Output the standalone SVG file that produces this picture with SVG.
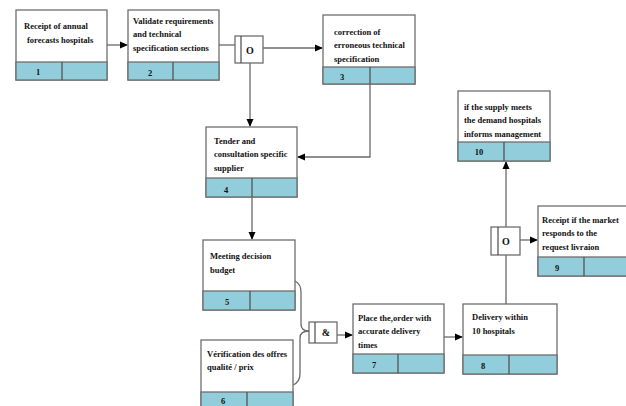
<svg xmlns="http://www.w3.org/2000/svg" width="626" height="406" viewBox="0 0 626 406">
<defs>
<marker id="ah" markerWidth="8" markerHeight="8" refX="7" refY="4" orient="auto" markerUnits="userSpaceOnUse">
<path d="M0,0.5 L8,4 L0,7.5 Z" fill="#000"/>
</marker>
<style>
.box{fill:#fff;stroke:#6e6e6e;stroke-width:1.3}
.strip{fill:#92cddc;stroke:#6e6e6e;stroke-width:1.3}
.div{stroke:#4a4a4a;stroke-width:1.2}
.t{font-family:"Liberation Serif","Times New Roman",serif;font-weight:bold;font-size:8.5px;fill:#111}
.n{font-family:"Liberation Serif","Times New Roman",serif;font-weight:bold;font-size:8.5px;fill:#111;text-anchor:middle}
.j{font-family:"Liberation Serif","Times New Roman",serif;font-weight:bold;font-size:10px;fill:#111;text-anchor:middle}
.c{fill:none;stroke:#6a6a6a;stroke-width:1.3}
.ca{fill:none;stroke:#6a6a6a;stroke-width:1.3;marker-end:url(#ah)}
</style>
</defs>
<rect width="626" height="406" fill="#fff"/>
<g id="connectors">
<path class="ca" d="M107,45 H127"/>
<path class="c" d="M219,45 H235"/>
<path class="ca" d="M263,48 H322"/>
<path class="ca" d="M250,63 V126"/>
<path class="ca" d="M370,84 V157 H298"/>
<path class="ca" d="M252,197 V239"/>
<path class="c" d="M295,281 Q301,284 301,292 V324 Q301,331 309,331"/>
<path class="c" d="M293,385 Q300,382 300,374 V338 Q300,331 309,331"/>
<path class="ca" d="M337,335 H352"/>
<path class="ca" d="M444,337 H462"/>
<path class="c" d="M506,304 V255"/>
<path class="ca" d="M506,227 V162"/>
<path class="ca" d="M520,240 H537"/>
</g>
<g id="node1">
<rect class="box" x="16" y="10" width="91" height="70"/>
<rect class="strip" x="16" y="62" width="91" height="18"/>
<line class="div" x1="62" y1="62" x2="62" y2="80"/>
<text class="t" x="24" y="29">Receipt of annual</text>
<text class="t" x="27" y="43">forecasts hospitals</text>
<text class="n" x="38" y="75">1</text>
</g>
<g id="node2">
<rect class="box" x="128" y="10" width="91" height="70"/>
<rect class="strip" x="128" y="62" width="91" height="18"/>
<line class="div" x1="173" y1="62" x2="173" y2="80"/>
<text class="t" x="133" y="24">Validate requirements</text>
<text class="t" x="133" y="37">and technical</text>
<text class="t" x="133" y="51">specification sections</text>
<text class="n" x="150" y="76">2</text>
</g>
<g id="junctionO1">
<rect class="box" x="235" y="36" width="28" height="27"/>
<line class="div" x1="241" y1="36" x2="241" y2="63"/>
<text class="j" x="250" y="54">O</text>
</g>
<g id="node3">
<rect class="box" x="323" y="15" width="92" height="69"/>
<rect class="strip" x="323" y="67" width="92" height="17"/>
<line class="div" x1="370" y1="67" x2="370" y2="84"/>
<text class="t" x="334" y="35">correction of</text>
<text class="t" x="334" y="48">erroneous technical</text>
<text class="t" x="334" y="62">specification</text>
<text class="n" x="342" y="80">3</text>
</g>
<g id="node4">
<rect class="box" x="206" y="127" width="91" height="70"/>
<rect class="strip" x="206" y="178" width="91" height="19"/>
<line class="div" x1="252" y1="178" x2="252" y2="197"/>
<text class="t" x="214" y="144">Tender and</text>
<text class="t" x="214" y="157">consultation specific</text>
<text class="t" x="214" y="171">supplier</text>
<text class="n" x="226" y="193">4</text>
</g>
<g id="node5">
<rect class="box" x="203" y="240" width="92" height="70"/>
<rect class="strip" x="203" y="291" width="92" height="19"/>
<line class="div" x1="250" y1="291" x2="250" y2="310"/>
<text class="t" x="210" y="259">Meeting  decision</text>
<text class="t" x="210" y="273">budget</text>
<text class="n" x="227" y="305">5</text>
</g>
<g id="node6">
<rect class="box" x="201" y="340" width="92" height="72"/>
<rect class="strip" x="201" y="392" width="92" height="20"/>
<line class="div" x1="247" y1="392" x2="247" y2="412"/>
<text class="t" x="207" y="357">Vérification des offres</text>
<text class="t" x="207" y="370">qualité / prix</text>
<text class="n" x="223" y="404">6</text>
</g>
<g id="junctionAnd">
<rect class="box" x="309" y="322" width="28" height="21"/>
<line class="div" x1="315" y1="322" x2="315" y2="343"/>
<text class="j" x="326" y="336">&amp;</text>
</g>
<g id="node7">
<rect class="box" x="353" y="304" width="91" height="69"/>
<rect class="strip" x="353" y="354" width="91" height="19"/>
<line class="div" x1="398" y1="354" x2="398" y2="373"/>
<text class="t" x="358" y="321">Place the,order with</text>
<text class="t" x="358" y="334">accurate delivery</text>
<text class="t" x="358" y="348">times</text>
<text class="n" x="374" y="368">7</text>
</g>
<g id="node8">
<rect class="box" x="463" y="304" width="94" height="70"/>
<rect class="strip" x="463" y="355" width="94" height="19"/>
<line class="div" x1="509" y1="355" x2="509" y2="374"/>
<text class="t" x="472" y="320">Delivery within</text>
<text class="t" x="472" y="334">10 hospitals</text>
<text class="n" x="483" y="369">8</text>
</g>
<g id="junctionO2">
<rect class="box" x="491" y="227" width="29" height="28"/>
<line class="div" x1="498" y1="227" x2="498" y2="255"/>
<text class="j" x="506" y="245">O</text>
</g>
<g id="node9">
<rect class="box" x="538" y="206" width="92" height="70"/>
<rect class="strip" x="538" y="257" width="92" height="19"/>
<line class="div" x1="584" y1="257" x2="584" y2="276"/>
<text class="t" x="542" y="223">Receipt if the market</text>
<text class="t" x="542" y="236">responds to the</text>
<text class="t" x="542" y="250">request livraion</text>
<text class="n" x="557" y="271">9</text>
</g>
<g id="node10">
<rect class="box" x="458" y="91" width="92" height="70"/>
<rect class="strip" x="458" y="142" width="92" height="19"/>
<line class="div" x1="504" y1="142" x2="504" y2="161"/>
<text class="t" x="464" y="110">if the supply meets</text>
<text class="t" x="464" y="123">the demand hospitals</text>
<text class="t" x="464" y="137">informs management</text>
<text class="n" x="479" y="155">10</text>
</g>
</svg>
